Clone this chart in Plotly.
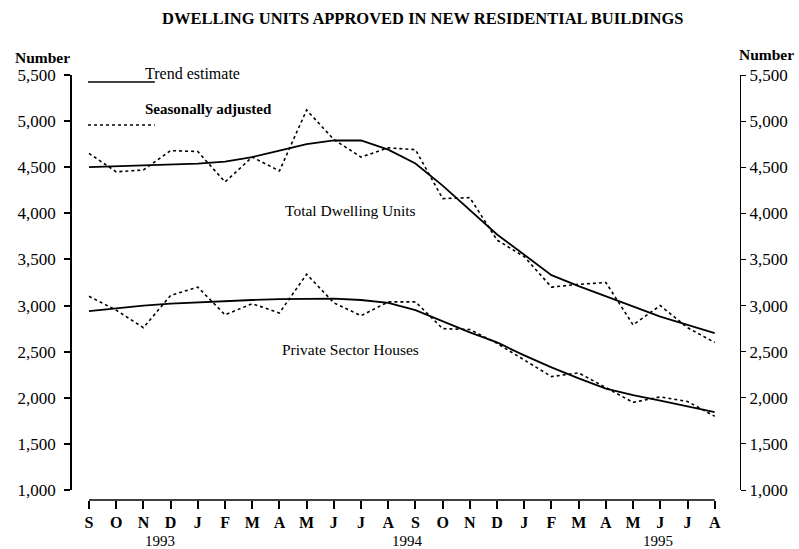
import plotly.graph_objects as go

months = ["S", "O", "N", "D", "J", "F", "M", "A", "M", "J", "J", "A",
          "S", "O", "N", "D", "J", "F", "M", "A", "M", "J", "J", "A"]
years = ["1993", "1994", "1995"]
year_pos = [2.6, 11.7, 20.9]

total_trend = [4500, 4510, 4520, 4530, 4540, 4560, 4610, 4680, 4750, 4790, 4790, 4690,
               4540, 4300, 4040, 3770, 3550, 3330, 3210, 3100, 2990, 2880, 2790, 2700]
total_sa = [4650, 4450, 4470, 4680, 4670, 4340, 4610, 4460, 5120, 4800, 4610, 4710,
            4690, 4160, 4170, 3710, 3530, 3200, 3230, 3250, 2790, 3000, 2760, 2600]
private_trend = [2940, 2970, 3000, 3020, 3035, 3050, 3060, 3070, 3075, 3075, 3060, 3030,
                 2950, 2830, 2710, 2600, 2460, 2330, 2210, 2100, 2030, 1970, 1910, 1845]
private_sa = [3100, 2950, 2760, 3110, 3200, 2900, 3020, 2920, 3340, 3030, 2890, 3040,
              3040, 2750, 2740, 2590, 2410, 2230, 2270, 2110, 1950, 2010, 1960, 1800]

y_ticks = [1000, 1500, 2000, 2500, 3000, 3500, 4000, 4500, 5000, 5500]

x = list(range(len(months)))
SERIF = "Liberation Serif, Times New Roman, serif"

fig = go.Figure()
for ys, dash, w in [(total_sa, "dot", 1.6), (private_sa, "dot", 1.6),
                    (total_trend, "solid", 1.8), (private_trend, "solid", 1.8)]:
    fig.add_trace(go.Scatter(x=x, y=ys, mode="lines",
                             line=dict(color="black", width=w, dash=dash),
                             hoverinfo="skip", showlegend=False))
# invisible trace to activate right axis
fig.add_trace(go.Scatter(x=x, y=total_trend, yaxis="y2", mode="lines",
                         line=dict(color="rgba(0,0,0,0)"), hoverinfo="skip",
                         showlegend=False))

fig.update_layout(
    width=799, height=549,
    margin=dict(l=72, r=59, t=75, b=49),
    paper_bgcolor="white", plot_bgcolor="white",
    font=dict(family=SERIF, color="black"),
    xaxis=dict(range=[-0.625, 23.93], tickmode="array", tickvals=x,
               ticktext=["<b>%s</b>" % m for m in months],
               showline=False, showgrid=False, zeroline=False,
               ticks="outside", ticklen=8, tickwidth=1.5, tickcolor="black",
               tickfont=dict(family=SERIF, size=16, color="black"),
               anchor="free", position=0),
    yaxis=dict(range=[1000, 5500], domain=[10 / 425, 1], tickvals=y_ticks,
               tickformat=",d", showgrid=False, zeroline=False,
               showline=True, linecolor="black", linewidth=1.5,
               ticks="outside", ticklen=6, tickwidth=1.5, tickcolor="black",
               ticklabelstandoff=5,
               tickfont=dict(family=SERIF, size=17, color="black")),
    yaxis2=dict(range=[1000, 5500], overlaying="y", side="right", tickvals=y_ticks,
                tickformat=",d", showgrid=False, zeroline=False,
                showline=True, linecolor="black", linewidth=1.2,
                ticks="outside", ticklen=5, tickwidth=1.2, tickcolor="black",
                tickfont=dict(family=SERIF, size=17, color="black")),
)

# x axis line between first and last month
fig.add_shape(type="line", xref="x", yref="paper", x0=x[0], x1=x[-1], y0=0, y1=0,
              line=dict(color="black", width=1.5))

# legend
fig.add_shape(type="line", xref="paper", yref="paper", x0=0.024, x1=0.124,
              y0=0.9835, y1=0.9835, line=dict(color="black", width=1.5))
fig.add_shape(type="line", xref="paper", yref="paper", x0=0.024, x1=0.124,
              y0=0.8824, y1=0.8824, line=dict(color="black", width=1.5, dash="dot"))

annotations = [
    dict(text="<b>DWELLING UNITS APPROVED IN NEW RESIDENTIAL BUILDINGS</b>",
         x=(422 - 72) / 668, y=(500 - 18) / 425, font=dict(size=16.5),
         xanchor="center", yanchor="middle"),
    dict(text="<b>Number</b>", x=(13 - 72) / 668, y=(500 - 57) / 425,
         font=dict(size=15.5), xanchor="left", yanchor="middle"),
    dict(text="<b>Number</b>", x=(737 - 72) / 668, y=(500 - 55) / 425,
         font=dict(size=15.5), xanchor="left", yanchor="middle"),
    dict(text="Trend estimate", x=(143 - 72) / 668, y=(500 - 73) / 425,
         font=dict(size=16), xanchor="left", yanchor="middle"),
    dict(text="<b>Seasonally adjusted</b>", x=(143 - 72) / 668, y=(500 - 109) / 425,
         font=dict(size=15), xanchor="left", yanchor="middle"),
    dict(text="Total Dwelling Units", x=(350 - 72) / 668, y=(500 - 210) / 425,
         font=dict(size=15.5), xanchor="center", yanchor="middle"),
    dict(text="Private Sector Houses", x=(350 - 72) / 668, y=(500 - 349) / 425,
         font=dict(size=15.5), xanchor="center", yanchor="middle"),
]
for a in annotations:
    a.update(xref="paper", yref="paper", showarrow=False)
    a["font"].update(family=SERIF, color="black")
    fig.add_annotation(**a)

for yr, pos in zip(years, year_pos):
    fig.add_annotation(text=yr, x=pos, xref="x", y=-41 / 425, yref="paper",
                       showarrow=False, xanchor="center", yanchor="middle",
                       font=dict(family=SERIF, size=15, color="black"))

fig.write_html("out.html", config={"displayModeBar": False},
               post_script="document.body.style.margin='0';document.body.style.overflow='hidden';")
